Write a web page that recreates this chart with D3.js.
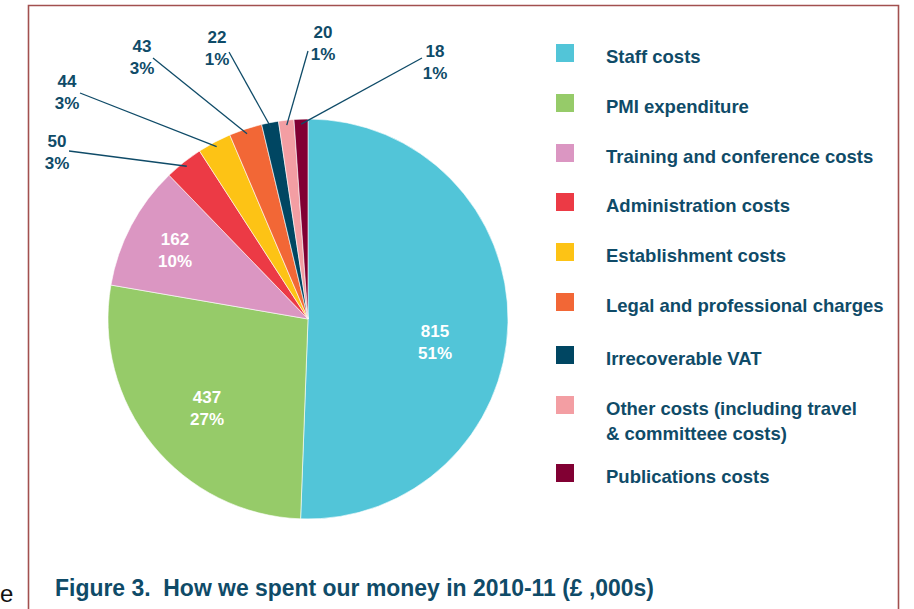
<!DOCTYPE html>
<html>
<head>
<meta charset="utf-8">
<script src="https://cdn.jsdelivr.net/npm/d3@7"></script>
<style>
  html, body { margin: 0; padding: 0; background: #fff; overflow: hidden; }
  svg { display: block; font-family: "Liberation Sans", Arial, sans-serif; }
  text { white-space: pre; }
</style>
</head>
<body>
<svg id="chart" width="914" height="609"></svg>
<script>
// ---- data ----
const categories = [
  "Staff costs",
  "PMI expenditure",
  "Training and conference costs",
  "Administration costs",
  "Establishment costs",
  "Legal and professional charges",
  "Irrecoverable VAT",
  "Other costs (including travel\n& committeee costs)",
  "Publications costs"
];
const values = [815, 437, 162, 50, 44, 43, 22, 20, 18];
const percentLabels = ["51%", "27%", "10%", "3%", "3%", "3%", "1%", "1%", "1%"];
const colors = ["#52c5d8", "#96cb69", "#db96c2", "#ec3a45", "#fdc315", "#f26736", "#004662", "#f39ea3", "#810033"];
const titleText = "Figure 3.  How we spent our money in 2010-11 (£ ,000s)";

// ---- layout ----
const W = 914, H = 609;
const cx = 308, cy = 319, R = 200;
const textColor = "#0f4b68";
// label positions: inside labels (first line baseline), outside callouts (text + line start)
const labelLayout = [
  {x: 435, y: 337, inside: true},
  {x: 207, y: 403, inside: true},
  {x: 175, y: 245, inside: true},
  {x: 57,  y: 147, lx: 69,  ly: 151},
  {x: 67,  y: 87,  lx: 80,  ly: 93},
  {x: 142, y: 52,  lx: 153, ly: 58},
  {x: 217, y: 43,  lx: 229, ly: 52},
  {x: 323, y: 38,  lx: 308, ly: 51},
  {x: 435, y: 57,  lx: 422, ly: 58}
];
const legendTops = [44, 94, 144, 193, 243, 293, 346, 396, 464];

const svg = d3.select("#chart");

// stray glyph from neighbouring page
svg.append("text").attr("x", 0).attr("y", 602).attr("font-size", 24)
  .attr("fill", "#111").text("e");

// frame
svg.append("path")
  .attr("d", `M28.5,${H + 5} L28.5,5.5 L898.5,5.5 L898.5,${H + 5}`)
  .attr("fill", "none").attr("stroke", "#a2504f").attr("stroke-width", 1.6);

// pie
const pie = d3.pie().sort(null).value(d => d)(values);
const arc = d3.arc().innerRadius(0).outerRadius(R);
const edgeArc = d3.arc().innerRadius(195).outerRadius(195);
const g = svg.append("g").attr("transform", `translate(${cx},${cy})`);

g.selectAll("path.slice").data(pie).join("path")
  .attr("class", "slice")
  .attr("d", arc)
  .attr("fill", (d, i) => colors[i])
  .attr("stroke", "#fff").attr("stroke-width", 0.6);

// callout lines
pie.forEach((d, i) => {
  const L = labelLayout[i];
  if (L.inside) return;
  const [ex, ey] = edgeArc.centroid(d);
  svg.append("line")
    .attr("x1", L.lx).attr("y1", L.ly)
    .attr("x2", cx + ex).attr("y2", cy + ey)
    .attr("stroke", textColor).attr("stroke-width", 1.3);
});

// labels
pie.forEach((d, i) => {
  const L = labelLayout[i];
  const t = svg.append("text")
    .attr("text-anchor", "middle")
    .attr("font-size", 17).attr("font-weight", "bold")
    .attr("fill", L.inside ? "#ffffff" : textColor);
  t.append("tspan").attr("x", L.x).attr("y", L.y).text(values[i]);
  t.append("tspan").attr("x", L.x).attr("y", L.y + 22).text(percentLabels[i]);
});

// legend
const leg = svg.append("g");
categories.forEach((c, i) => {
  const y0 = legendTops[i];
  leg.append("rect").attr("x", 556).attr("y", y0).attr("width", 18).attr("height", 18)
    .attr("fill", colors[i]);
  const t = leg.append("text").attr("font-size", 18.5).attr("font-weight", "bold")
    .attr("fill", textColor);
  c.split("\n").forEach((line, j) => {
    t.append("tspan").attr("x", 606).attr("y", y0 + 19 + j * 25).text(line);
  });
});

// title
svg.append("text")
  .attr("x", 55).attr("y", 596)
  .attr("font-size", 23).attr("font-weight", "bold")
  .attr("fill", textColor)
  .attr("textLength", 599).attr("lengthAdjust", "spacingAndGlyphs")
  .text(titleText);
</script>
</body>
</html>
